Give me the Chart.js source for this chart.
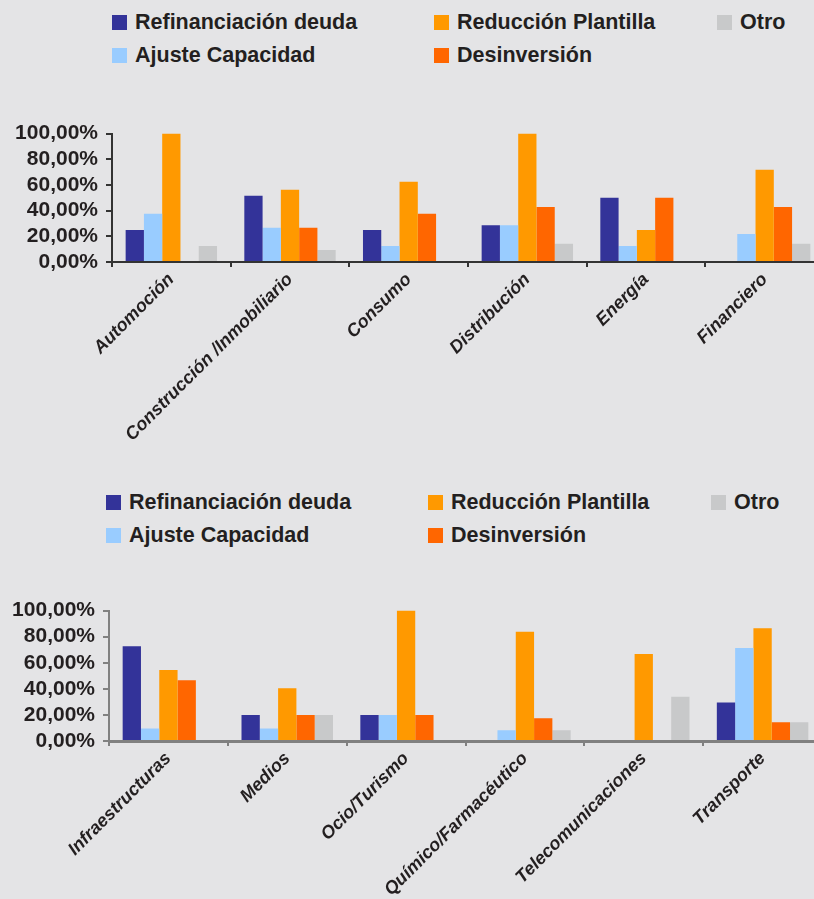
<!DOCTYPE html>
<html>
<head>
<meta charset="utf-8">
<script src="https://cdn.jsdelivr.net/npm/chart.js@4/dist/chart.umd.min.js"></script>
<style>
  html, body { margin: 0; padding: 0; }
  body { width: 814px; height: 899px; overflow: hidden; background: #e4e4e6; position: relative;
         font-family: "Liberation Sans", Arial, sans-serif; }
  .wrap { position: absolute; left: 0; width: 840px; }
  .leg { position: absolute; display: flex; align-items: center; font-weight: bold; font-size: 21.5px;
         color: #231f20; white-space: nowrap; line-height: 15px; }
  .leg .sw { width: 15px; height: 15px; margin-right: 8px; flex: none; }
</style>
</head>
<body>
<div id="legend1"></div>
<div class="wrap" style="top:113px;height:352px;"><canvas id="c1"></canvas></div>
<div id="legend2"></div>
<div class="wrap" style="top:590px;height:354px;"><canvas id="c2"></canvas></div>
<script>
// ---- data ----
const seriesNames = ['Refinanciación deuda', 'Ajuste Capacidad', 'Reducción Plantilla', 'Desinversión', 'Otro'];
const seriesColors = ['#333399', '#99ccff', '#ff9900', '#ff6600', '#c8c9ca'];

const categories1 = ['Automoción', 'Construcción /Inmobiliario', 'Consumo', 'Distribución', 'Energía', 'Financiero'];
const refinanciacion1 = [25, 51.6, 25, 28.6, 50, 0];
const ajuste1 = [37.5, 26.6, 12.5, 28.6, 12.5, 21.9];
const reduccion1 = [100, 56.3, 62.5, 100, 25, 71.9];
const desinversion1 = [0, 26.6, 37.5, 42.9, 50, 42.9];
const otro1 = [12.5, 9.4, 0, 14.3, 0, 14.3];

const categories2 = ['Infraestructuras', 'Medios', 'Ocio/Turismo', 'Químico/Farmacéutico', 'Telecomunicaciones', 'Transporte'];
const refinanciacion2 = [72.7, 20, 20, 0, 0, 29.5];
const ajuste2 = [9.5, 9.5, 20, 8.2, 0, 71.4];
const reduccion2 = [54.5, 40.5, 100, 83.8, 66.7, 86.5];
const desinversion2 = [46.5, 20, 20, 17.5, 0, 14.3];
const otro2 = [0, 20, 0, 8.2, 34, 14.3];

const yTickLabels = ['0,00%', '20,00%', '40,00%', '60,00%', '80,00%', '100,00%'];

// ---- legends (HTML, column-major like the original) ----
function buildLegend(id, x0, y0) {
  const el = document.getElementById(id);
  const colX = [0, 322, 605];
  const rowY = [0, 33];
  const order = [[0, 0, 0], [1, 0, 1], [2, 1, 0], [3, 1, 1], [4, 2, 0]];
  order.forEach(([si, c, r]) => {
    const d = document.createElement('div');
    d.className = 'leg';
    d.style.left = (x0 + colX[c]) + 'px';
    d.style.top = (y0 + rowY[r]) + 'px';
    const sw = document.createElement('span');
    sw.className = 'sw';
    sw.style.background = seriesColors[si];
    const t = document.createElement('span');
    t.textContent = seriesNames[si];
    d.appendChild(sw); d.appendChild(t);
    el.appendChild(d);
  });
}
buildLegend('legend1', 112, 15);
buildLegend('legend2', 106, 495);

function makeChart(canvasId, cats, series, opt) {
  const datasets = series.map((vals, i) => ({
    label: seriesNames[i],
    data: vals,
    backgroundColor: seriesColors[i],
    borderWidth: 0,
    categoryPercentage: 0.77,
    barPercentage: 1.0
  }));
  return new Chart(document.getElementById(canvasId), {
    type: 'bar',
    data: { labels: cats, datasets },
    options: {
      responsive: true,
      maintainAspectRatio: false,
      animation: false,
      layout: { padding: { top: opt.padTop, right: opt.padRight, left: 0, bottom: 0 } },
      plugins: { legend: { display: false }, tooltip: { enabled: false } },
      scales: {
        x: {
          offset: true,
          grid: { offset: true, drawOnChartArea: false, drawTicks: true, tickLength: 5,
                  tickColor: opt.axisColor, lineWidth: 2 },
          border: { display: true, color: opt.axisColor, width: opt.axisWidth },
          ticks: {
            minRotation: 45, maxRotation: 45, autoSkip: false, padding: 2,
            color: '#231f20',
            font: { family: '"Liberation Sans", Arial, sans-serif', size: 18, weight: 'bold', style: 'italic' }
          },
          afterFit: (s) => { s.height = opt.xHeight; }
        },
        y: {
          min: 0, max: 100,
          grid: { drawOnChartArea: false, drawTicks: true, tickLength: 6, tickColor: opt.axisColor, lineWidth: 2 },
          border: { display: true, color: opt.axisColor, width: 2 },
          ticks: {
            stepSize: 20, autoSkip: false, padding: 8, color: '#231f20',
            font: { family: '"Liberation Sans", Arial, sans-serif', size: 21, weight: 'bold' },
            callback: (v) => yTickLabels[Math.round(v / 20)]
          },
          afterFit: (s) => { s.width = opt.yWidth; }
        }
      }
    }
  });
}

makeChart('c1', categories1, [refinanciacion1, ajuste1, reduccion1, desinversion1, otro1],
  { padTop: 8, padRight: 16, yWidth: 112, xHeight: 203, axisColor: '#333333', axisWidth: 2 });
makeChart('c2', categories2, [refinanciacion2, ajuste2, reduccion2, desinversion2, otro2],
  { padTop: 8, padRight: 18, yWidth: 109, xHeight: 203, axisColor: '#808080', axisWidth: 3 });
</script>
</body>
</html>
